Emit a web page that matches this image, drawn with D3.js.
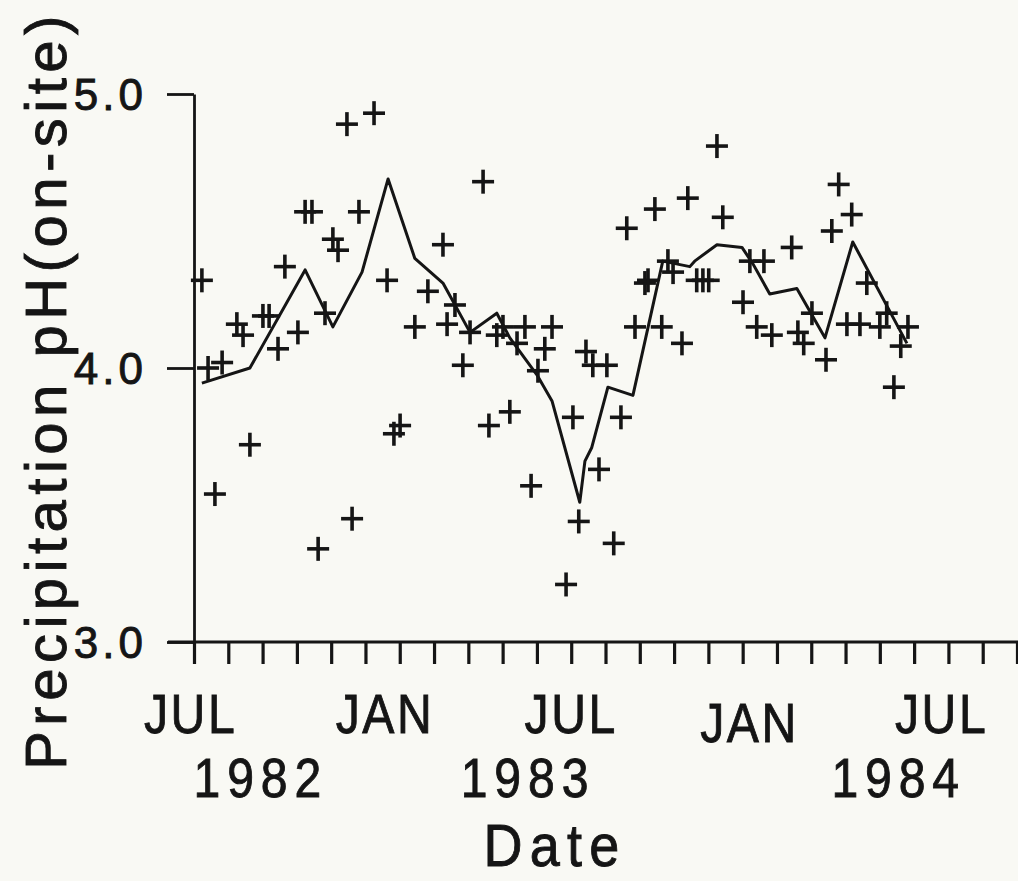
<!DOCTYPE html>
<html>
<head>
<meta charset="utf-8">
<script src="https://cdn.jsdelivr.net/npm/d3@7"></script>
<style>
  html, body { margin: 0; padding: 0; background: #f9f9f4; }
  svg { display: block; }
  text { font-family: "Liberation Sans", Arial, Helvetica, sans-serif; fill: #151515; stroke: #151515; stroke-width: 0.9px; }
</style>
</head>
<body>
<svg id="chart" width="1018" height="881"></svg>
<script>
// x values: months since 1 JUL 1982 ; y values: precipitation pH (on-site)
const sampleMonth = [0.23,0.41,0.82,0.61,1.25,1.43,1.63,2.01,2.19,2.45,2.65,3.03,3.24,3.44,3.62,3.82,4.05,4.20,4.46,4.61,4.81,5.25,5.63,5.83,6.01,6.44,6.82,7.26,7.38,7.61,7.84,8.05,8.43,8.60,8.83,9.01,9.21,9.42,9.65,9.83,10.03,10.23,10.44,10.85,11.05,11.22,11.43,11.63,11.81,12.04,12.24,12.45,12.62,12.86,13.15,13.24,13.44,13.64,13.82,13.97,14.23,14.40,14.66,14.84,15.01,15.25,15.42,16.01,16.21,16.62,16.41,16.85,17.43,17.61,17.78,18.02,18.43,18.60,18.80,19.18,19.04,19.42,19.62,20.00,20.20,20.41,20.61,20.82];
const samplePH    = [4.32,4.00,4.02,3.54,4.16,4.12,3.72,4.19,4.19,4.07,4.37,4.13,4.57,4.57,3.34,4.20,4.47,4.43,4.89,3.45,4.57,4.93,4.32,3.76,3.79,4.15,4.28,4.45,4.16,4.23,4.01,4.13,4.68,3.79,4.12,4.15,3.84,4.09,4.15,3.57,3.99,4.07,4.15,3.21,3.82,3.44,4.06,4.01,3.63,4.01,3.36,3.82,4.51,4.15,4.31,4.32,4.58,4.15,4.39,4.35,4.09,4.62,4.32,4.32,4.32,4.81,4.55,4.24,4.39,4.39,4.15,4.12,4.44,4.13,4.09,4.20,4.03,4.50,4.67,4.56,4.16,4.16,4.31,4.15,4.20,3.93,4.08,4.15];

const meanMonth = [0.23,1.63,3.24,4.05,4.90,5.66,6.44,7.26,8.05,8.83,9.21,10.00,10.44,11.25,11.40,11.60,12.07,12.80,13.67,14.46,14.60,15.25,15.98,16.30,16.79,17.58,18.40,19.21,20.79];
const meanPH    = [3.945,4.00,4.358,4.15,4.35,4.69,4.40,4.31,4.13,4.20,4.11,3.975,3.88,3.51,3.66,3.71,3.93,3.90,4.39,4.37,4.39,4.45,4.44,4.38,4.27,4.29,4.11,4.46,4.09];

const yTicks = [3.0, 4.0, 5.0];
const monthTicks = d3.range(0, 25);
const monthLabels = ["JUL", "JAN", "JUL", "JAN", "JUL"];
const monthLabelAt = [-0.1, 5.57, 11.0, 16.2, 21.8];
const yearLabels = ["1982", "1983", "1984"];
const yearLabelAt = [1.95, 9.74, 20.55];
const xTitle = "Date";
const yTitle = "Precipitation pH(on-site)";

const svg = d3.select("#chart");
const x = d3.scaleLinear().domain([0, 24]).range([194, 1017]);
const y = d3.scaleLinear().domain([3, 5]).range([642, 94]);
const ink = "#151515";

// x axis
const xAxis = svg.append("g").attr("transform", `translate(0,${y(3)})`)
  .call(d3.axisBottom(x).tickValues(monthTicks).tickSize(22).tickSizeOuter(0).tickFormat(""));
xAxis.select(".domain").remove();
xAxis.selectAll(".tick line").attr("stroke", ink).attr("stroke-width", 3.2);
svg.append("line").attr("x1", 168).attr("x2", 1018).attr("y1", y(3)).attr("y2", y(3))
  .attr("stroke", ink).attr("stroke-width", 2.8);

// y axis
const yAxis = svg.append("g").attr("transform", `translate(${x(0)},0)`)
  .call(d3.axisLeft(y).tickValues(yTicks).tickSize(27).tickSizeOuter(0).tickPadding(20).tickFormat(d3.format(".1f")));
yAxis.select(".domain").attr("stroke", ink).attr("stroke-width", 2.8);
yAxis.selectAll(".tick line").attr("stroke", ink).attr("stroke-width", 2.8);
yAxis.selectAll(".tick text").attr("font-size", 44).attr("letter-spacing", 4)
  .attr("font-family", "Liberation Sans, Arial, sans-serif").attr("fill", ink).attr("dy", "0.36em");

// mean line
const line = d3.line().x(d => x(d[0])).y(d => y(d[1]));
svg.append("path").datum(d3.zip(meanMonth, meanPH)).attr("d", line)
  .attr("fill", "none").attr("stroke", ink).attr("stroke-width", 3).attr("stroke-linejoin", "round");

// plus markers
const pts = svg.append("g").selectAll("g").data(d3.zip(sampleMonth, samplePH)).join("g")
  .attr("transform", d => `translate(${x(d[0])},${y(d[1])})`);
pts.append("line").attr("x1", -11).attr("x2", 11).attr("stroke", ink).attr("stroke-width", 3.6);
pts.append("line").attr("y1", -12).attr("y2", 12).attr("stroke", ink).attr("stroke-width", 3.6);

// x labels
svg.append("g").selectAll("text").data(monthLabels).join("text")
  .attr("transform", (d, i) => `translate(${x(monthLabelAt[i])},${i === 3 ? 742 : 733}) scale(0.86,1)`)
  .attr("text-anchor", "middle").attr("font-size", 56).attr("letter-spacing", 3)
  .text(d => d);
svg.append("g").selectAll("text").data(yearLabels).join("text")
  .attr("transform", (d, i) => `translate(${x(yearLabelAt[i])},797) scale(0.86,1)`)
  .attr("text-anchor", "middle").attr("font-size", 56).attr("letter-spacing", 8)
  .text(d => d);
svg.append("text").attr("transform", "translate(555,866) scale(0.9,1)").attr("text-anchor", "middle")
  .attr("font-size", 60).attr("letter-spacing", 8).text(xTitle);

// y title
svg.append("text").attr("transform", "translate(66,390) rotate(-90)")
  .attr("text-anchor", "middle").attr("font-size", 58).attr("letter-spacing", 5.5).text(yTitle);
</script>
</body>
</html>
